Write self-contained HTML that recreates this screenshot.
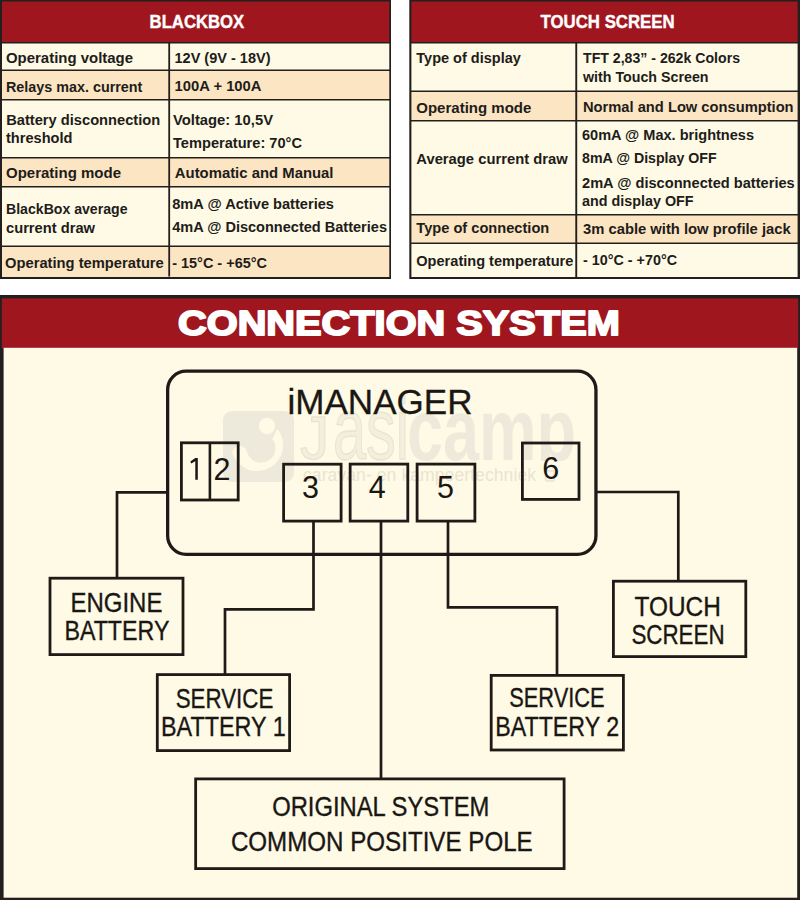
<!DOCTYPE html>
<html><head><meta charset="utf-8"><title>iManager</title>
<style>
html,body{margin:0;padding:0;background:#ffffff;width:800px;height:900px;overflow:hidden}
svg{display:block;font-family:"Liberation Sans",sans-serif}
</style></head><body>
<svg width="800" height="900" viewBox="0 0 800 900">
<rect x="0" y="0" width="800" height="900" fill="#ffffff"/>
<rect x="0" y="0" width="391" height="279" fill="#231f1d"/>
<rect x="2" y="1.5" width="387.3" height="40.5" fill="#9f161e"/>
<rect x="2" y="43.5" width="387.3" height="26.0" fill="#fefae5"/>
<rect x="2" y="71" width="387.3" height="28.0" fill="#fce5c2"/>
<rect x="2" y="100.5" width="387.3" height="56.5" fill="#fefae5"/>
<rect x="2" y="158.5" width="387.3" height="27.5" fill="#fce5c2"/>
<rect x="2" y="187.5" width="387.3" height="58.0" fill="#fefae5"/>
<rect x="2" y="247" width="387.3" height="30.0" fill="#fce5c2"/>
<rect x="168.3" y="42.5" width="1.8" height="234" fill="#231f1d"/>
<text x="149.6" y="27.9" font-size="17.8" font-weight="bold" fill="#ffffff" textLength="94.6" lengthAdjust="spacingAndGlyphs" stroke="#ffffff" stroke-width="0.4">BLACKBOX</text>
<text x="6" y="62.7" font-size="15.3" font-weight="bold" fill="#211c1a" textLength="127" lengthAdjust="spacingAndGlyphs">Operating voltage</text>
<text x="174.5" y="62.7" font-size="15.3" font-weight="bold" fill="#211c1a" textLength="96" lengthAdjust="spacingAndGlyphs">12V (9V - 18V)</text>
<text x="6" y="91.5" font-size="15.3" font-weight="bold" fill="#211c1a" textLength="136.4" lengthAdjust="spacingAndGlyphs">Relays max. current</text>
<text x="174.5" y="91.3" font-size="15.3" font-weight="bold" fill="#211c1a" textLength="87" lengthAdjust="spacingAndGlyphs">100A + 100A</text>
<text x="6.2" y="124.5" font-size="15.3" font-weight="bold" fill="#211c1a" textLength="154" lengthAdjust="spacingAndGlyphs">Battery disconnection</text>
<text x="6" y="143" font-size="15.3" font-weight="bold" fill="#211c1a" textLength="66.5" lengthAdjust="spacingAndGlyphs">threshold</text>
<text x="173" y="124.5" font-size="15.3" font-weight="bold" fill="#211c1a" textLength="100" lengthAdjust="spacingAndGlyphs">Voltage: 10,5V</text>
<text x="173" y="147.8" font-size="15.3" font-weight="bold" fill="#211c1a" textLength="129" lengthAdjust="spacingAndGlyphs">Temperature: 70°C</text>
<text x="6" y="178" font-size="15.3" font-weight="bold" fill="#211c1a" textLength="115" lengthAdjust="spacingAndGlyphs">Operating mode</text>
<text x="174.8" y="177.9" font-size="15.3" font-weight="bold" fill="#211c1a" textLength="158.7" lengthAdjust="spacingAndGlyphs">Automatic and Manual</text>
<text x="6" y="214.3" font-size="15.3" font-weight="bold" fill="#211c1a" textLength="121.5" lengthAdjust="spacingAndGlyphs">BlackBox average</text>
<text x="6" y="233" font-size="15.3" font-weight="bold" fill="#211c1a" textLength="89" lengthAdjust="spacingAndGlyphs">current draw</text>
<text x="172.2" y="209.4" font-size="15.3" font-weight="bold" fill="#211c1a" textLength="161.8" lengthAdjust="spacingAndGlyphs">8mA @ Active batteries</text>
<text x="172.2" y="232.4" font-size="15.3" font-weight="bold" fill="#211c1a" textLength="214.8" lengthAdjust="spacingAndGlyphs">4mA @ Disconnected Batteries</text>
<text x="5" y="268.3" font-size="15.3" font-weight="bold" fill="#211c1a" textLength="158.8" lengthAdjust="spacingAndGlyphs">Operating temperature</text>
<text x="172.2" y="268.3" font-size="15.3" font-weight="bold" fill="#211c1a" textLength="94.8" lengthAdjust="spacingAndGlyphs">- 15°C - +65°C</text>
<rect x="409.3" y="0" width="390.7" height="279" fill="#231f1d"/>
<rect x="411.4" y="1.5" width="386.2" height="40.5" fill="#9f161e"/>
<rect x="411.4" y="43.5" width="386.2" height="47.0" fill="#fefae5"/>
<rect x="411.4" y="92" width="386.2" height="28.0" fill="#fce5c2"/>
<rect x="411.4" y="121.5" width="386.2" height="92.5" fill="#fefae5"/>
<rect x="411.4" y="215.5" width="386.2" height="27.0" fill="#fce5c2"/>
<rect x="411.4" y="244" width="386.2" height="33.0" fill="#fefae5"/>
<rect x="575.3" y="42.5" width="1.9" height="235" fill="#231f1d"/>
<text x="540.6" y="27.7" font-size="17.8" font-weight="bold" fill="#ffffff" textLength="134" lengthAdjust="spacingAndGlyphs" stroke="#ffffff" stroke-width="0.4">TOUCH SCREEN</text>
<text x="416.3" y="63" font-size="15.3" font-weight="bold" fill="#211c1a" textLength="104.5" lengthAdjust="spacingAndGlyphs">Type of display</text>
<text x="583" y="63" font-size="15.3" font-weight="bold" fill="#211c1a" textLength="157" lengthAdjust="spacingAndGlyphs">TFT 2,83” - 262k Colors</text>
<text x="583" y="81.7" font-size="15.3" font-weight="bold" fill="#211c1a" textLength="125.5" lengthAdjust="spacingAndGlyphs">with Touch Screen</text>
<text x="416.3" y="112.5" font-size="15.3" font-weight="bold" fill="#211c1a" textLength="115" lengthAdjust="spacingAndGlyphs">Operating mode</text>
<text x="583" y="112.4" font-size="15.3" font-weight="bold" fill="#211c1a" textLength="210.6" lengthAdjust="spacingAndGlyphs">Normal and Low consumption</text>
<text x="416.3" y="164.2" font-size="15.3" font-weight="bold" fill="#211c1a" textLength="151.4" lengthAdjust="spacingAndGlyphs">Average current draw</text>
<text x="582" y="139.6" font-size="15.3" font-weight="bold" fill="#211c1a" textLength="172" lengthAdjust="spacingAndGlyphs">60mA @ Max. brightness</text>
<text x="582" y="162.5" font-size="15.3" font-weight="bold" fill="#211c1a" textLength="134.6" lengthAdjust="spacingAndGlyphs">8mA @ Display OFF</text>
<text x="582" y="187.5" font-size="15.3" font-weight="bold" fill="#211c1a" textLength="212.7" lengthAdjust="spacingAndGlyphs">2mA @ disconnected batteries</text>
<text x="582" y="205.6" font-size="15.3" font-weight="bold" fill="#211c1a" textLength="111.6" lengthAdjust="spacingAndGlyphs">and display OFF</text>
<text x="416.3" y="233" font-size="15.3" font-weight="bold" fill="#211c1a" textLength="133" lengthAdjust="spacingAndGlyphs">Type of connection</text>
<text x="583" y="233.6" font-size="15.3" font-weight="bold" fill="#211c1a" textLength="207.7" lengthAdjust="spacingAndGlyphs">3m cable with low profile jack</text>
<text x="416.3" y="265.9" font-size="15.3" font-weight="bold" fill="#211c1a" textLength="157" lengthAdjust="spacingAndGlyphs">Operating temperature</text>
<text x="583" y="265.2" font-size="15.3" font-weight="bold" fill="#211c1a" textLength="94" lengthAdjust="spacingAndGlyphs">- 10°C - +70°C</text>
<rect x="0" y="295" width="800" height="605" fill="#231f1d"/>
<rect x="1.8" y="298.4" width="796.4" height="50" fill="#9f161e"/>
<rect x="3.6" y="347.8" width="793.6" height="549.9" fill="#fefae5"/>
<text x="178.0" y="335.0" font-size="35.2" font-weight="bold" fill="#ffffff" textLength="441.8" lengthAdjust="spacingAndGlyphs" stroke="#ffffff" stroke-width="1.9" stroke-linejoin="round">CONNECTION SYSTEM</text>
<rect x="223" y="411" width="71" height="71" rx="9" fill="#eeeadb"/>
<circle cx="267" cy="426" r="8.2" fill="#fefae5"/>
<path d="M232.6 453.9 A 26 26 0 1 0 277.5 429 L 272.4 439.1 A 14.5 14.5 0 1 1 247.4 453 A 7.4 7.4 0 0 0 232.6 453.9 Z" fill="#fefae5"/>
<defs><clipPath id="wmc"><rect x="290" y="400" width="300" height="61"/></clipPath></defs>
<text x="300" y="459" font-size="62" font-weight="normal" fill="#f4efdc" stroke="#e9e4d2" stroke-width="1.3" textLength="29" lengthAdjust="spacingAndGlyphs">J</text>
<text x="333" y="459" font-size="87" font-weight="normal" fill="#f4efdc" stroke="#e9e4d2" stroke-width="1.3" textLength="76" lengthAdjust="spacingAndGlyphs">asi</text>
<g clip-path="url(#wmc)"><text x="407" y="460" font-size="88" font-weight="bold" fill="#eeeadb" textLength="169" lengthAdjust="spacingAndGlyphs">camp</text></g>
<text x="303" y="481" font-size="17.5" font-weight="normal" fill="#e9e4d2" textLength="233" lengthAdjust="spacing">caravan- en kampeertechniek</text>
<rect x="545.5" y="471" width="9" height="10" rx="2" fill="none" stroke="#e9e4d2" stroke-width="1.6"/>
<rect x="167.65" y="371.2" width="428.3" height="183.1" rx="18.5" fill="none" stroke="#1e1a18" stroke-width="3.3"/>
<text x="287.5" y="413.8" font-size="34.3" font-weight="normal" fill="#1a1614" textLength="185" lengthAdjust="spacingAndGlyphs" stroke="#1a1614" stroke-width="0.3">iMANAGER</text>
<rect x="181.40" y="442.80" width="56.80" height="57.20" fill="none" stroke="#1e1a18" stroke-width="2.8"/>
<line x1="209.9" y1="442" x2="209.9" y2="501" stroke="#1e1a18" stroke-width="2.6"/>
<rect x="283.60" y="464.20" width="57.50" height="56.90" fill="none" stroke="#1e1a18" stroke-width="2.8"/>
<rect x="350.15" y="464.10" width="57.65" height="57.00" fill="none" stroke="#1e1a18" stroke-width="2.8"/>
<rect x="417.10" y="464.10" width="57.80" height="57.00" fill="none" stroke="#1e1a18" stroke-width="2.8"/>
<rect x="522.40" y="443.00" width="56.60" height="56.40" fill="none" stroke="#1e1a18" stroke-width="2.8"/>
<path d="M195.3 458 H197.8 V479.8 H195.3 V461.2 L191.2 463.6 L190.3 461.6 Z" fill="#1a1614"/>
<text x="221.9" y="479.5" font-size="30.5" fill="#1a1614" text-anchor="middle">2</text>
<text x="310.4" y="497.5" font-size="30.5" fill="#1a1614" text-anchor="middle">3</text>
<text x="377.2" y="497.5" font-size="30.5" fill="#1a1614" text-anchor="middle">4</text>
<text x="445.5" y="497.5" font-size="30.5" fill="#1a1614" text-anchor="middle">5</text>
<text x="550.7" y="479.2" font-size="30.5" fill="#1a1614" text-anchor="middle">6</text>
<path d="M167 492.3 H117 V578" fill="none" stroke="#1e1a18" stroke-width="2.7" stroke-linejoin="miter"/>
<path d="M313.5 522 V609.3 H225 V674" fill="none" stroke="#1e1a18" stroke-width="2.7" stroke-linejoin="miter"/>
<path d="M381 522 V778" fill="none" stroke="#1e1a18" stroke-width="2.7" stroke-linejoin="miter"/>
<path d="M448 522 V607.3 H557 V675" fill="none" stroke="#1e1a18" stroke-width="2.7" stroke-linejoin="miter"/>
<path d="M596 492 H678.3 V580" fill="none" stroke="#1e1a18" stroke-width="2.7" stroke-linejoin="miter"/>
<rect x="50.00" y="578.20" width="133.00" height="76.40" fill="none" stroke="#1e1a18" stroke-width="2.8"/>
<rect x="157.30" y="674.60" width="132.30" height="76.00" fill="none" stroke="#1e1a18" stroke-width="2.8"/>
<rect x="491.20" y="675.40" width="132.20" height="74.60" fill="none" stroke="#1e1a18" stroke-width="2.8"/>
<rect x="613.40" y="581.20" width="132.40" height="75.40" fill="none" stroke="#1e1a18" stroke-width="2.8"/>
<rect x="195.65" y="778.90" width="368.45" height="89.70" fill="none" stroke="#1e1a18" stroke-width="2.8"/>
<text x="70.4" y="612" font-size="27.5" font-weight="normal" fill="#1a1614" textLength="92.0" lengthAdjust="spacingAndGlyphs" stroke="#1a1614" stroke-width="0.35">ENGINE</text>
<text x="64.4" y="640" font-size="27.5" font-weight="normal" fill="#1a1614" textLength="105.0" lengthAdjust="spacingAndGlyphs" stroke="#1a1614" stroke-width="0.35">BATTERY</text>
<text x="175.7" y="707.7" font-size="27.5" font-weight="normal" fill="#1a1614" textLength="97.6" lengthAdjust="spacingAndGlyphs" stroke="#1a1614" stroke-width="0.35">SERVICE</text>
<text x="161.0" y="736.3" font-size="27.5" font-weight="normal" fill="#1a1614" textLength="124.7" lengthAdjust="spacingAndGlyphs" stroke="#1a1614" stroke-width="0.35">BATTERY 1</text>
<text x="509.2" y="706.8" font-size="27.5" font-weight="normal" fill="#1a1614" textLength="95.4" lengthAdjust="spacingAndGlyphs" stroke="#1a1614" stroke-width="0.35">SERVICE</text>
<text x="495.3" y="735.7" font-size="27.5" font-weight="normal" fill="#1a1614" textLength="123.8" lengthAdjust="spacingAndGlyphs" stroke="#1a1614" stroke-width="0.35">BATTERY 2</text>
<text x="634.5" y="615.8" font-size="27.5" font-weight="normal" fill="#1a1614" textLength="86.4" lengthAdjust="spacingAndGlyphs" stroke="#1a1614" stroke-width="0.35">TOUCH</text>
<text x="631.4" y="643.6" font-size="27.5" font-weight="normal" fill="#1a1614" textLength="93.2" lengthAdjust="spacingAndGlyphs" stroke="#1a1614" stroke-width="0.35">SCREEN</text>
<text x="272.15" y="816.3" font-size="27.5" font-weight="normal" fill="#1a1614" textLength="217.3" lengthAdjust="spacingAndGlyphs" stroke="#1a1614" stroke-width="0.35">ORIGINAL SYSTEM</text>
<text x="230.9" y="850.5" font-size="27.5" font-weight="normal" fill="#1a1614" textLength="301.8" lengthAdjust="spacingAndGlyphs" stroke="#1a1614" stroke-width="0.35">COMMON POSITIVE POLE</text>
</svg>
</body></html>
